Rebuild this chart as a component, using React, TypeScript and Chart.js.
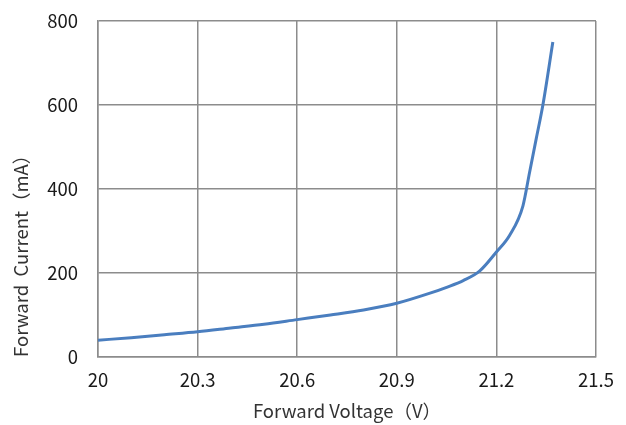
import React, { useEffect, useRef } from "react";
import { Chart, registerables } from "chart.js";

Chart.register(...registerables);

const voltage = [20.0, 20.1, 20.2, 20.3, 20.4, 20.5, 20.6, 20.7, 20.8, 20.9, 21.0, 21.05, 21.1, 21.15, 21.2, 21.24, 21.28, 21.3, 21.32, 21.34, 21.37];
const current = [40, 46, 53, 60, 69, 78, 89, 100, 112, 128, 152, 166, 182, 205, 250, 290, 360, 440, 520, 600, 750];
const xTicks = [20, 20.3, 20.6, 20.9, 21.2, 21.5];
const yTicks = [0, 200, 400, 600, 800];

const FONT = '"Noto Sans CJK SC", "Noto Sans", sans-serif';
const SIZE = 18.5;

export default function App() {
  const ref = useRef<HTMLCanvasElement>(null);
  useEffect(() => {
    if (!ref.current) return;
    const chart = new Chart(ref.current, {
      type: "line",
      data: {
        datasets: [
          {
            data: voltage.map((v, i) => ({ x: v, y: current[i] })),
            borderColor: "#4A7EBF",
            borderWidth: 3,
            pointRadius: 0,
            cubicInterpolationMode: "monotone",
            fill: false,
          },
        ],
      },
      options: {
        animation: false,
        responsive: false,
        devicePixelRatio: 1,
        layout: { padding: { left: 0, top: 21, right: 30, bottom: 0 } },
        plugins: { legend: { display: false }, tooltip: { enabled: false } },
        scales: {
          x: {
            type: "linear",
            min: 20,
            max: 21.5,
            afterBuildTicks: (s: any) => {
              s.ticks = xTicks.map((v) => ({ value: v }));
            },
            afterFit: (s: any) => {
              s.height = 68;
              s.paddingLeft = 0;
              s.paddingRight = 0;
            },
            grid: { color: "#8C8C8C", lineWidth: 1.5, drawTicks: false },
            border: { color: "#8C8C8C", width: 1.5 },
            ticks: {
              padding: 12,
              color: "#1a1a1a",
              font: { family: FONT, size: SIZE },
              maxRotation: 0,
              callback: (v: any) => String(Math.round(v * 10) / 10),
            },
            title: {
              display: true,
              text: "Forward Voltage（V）",
              color: "#333",
              font: { family: FONT, size: SIZE },
              padding: { top: 0, bottom: 3 },
            },
          },
          y: {
            min: 0,
            max: 800,
            afterBuildTicks: (s: any) => {
              s.ticks = yTicks.map((v) => ({ value: v }));
            },
            afterFit: (s: any) => {
              s.width = 98;
              s.paddingTop = 0;
              s.paddingBottom = 0;
            },
            grid: { color: "#8C8C8C", lineWidth: 1.5, drawTicks: false },
            border: { color: "#8C8C8C", width: 1.5 },
            ticks: {
              padding: 20,
              color: "#1a1a1a",
              font: { family: FONT, size: SIZE },
            },
            title: {
              display: true,
              align: "start",
              text: "Forward  Current（mA）",
              color: "#333",
              font: { family: FONT, size: SIZE },
              padding: { top: 10, bottom: 0 },
            },
          },
        },
      },
    });
    return () => chart.destroy();
  }, []);
  return (
    <div style={{ position: "fixed", left: 0, top: 0, width: 626, height: 425, background: "#fff" }}>
      <canvas ref={ref} width={626} height={425} style={{ width: 626, height: 425 }} />
    </div>
  );
}
